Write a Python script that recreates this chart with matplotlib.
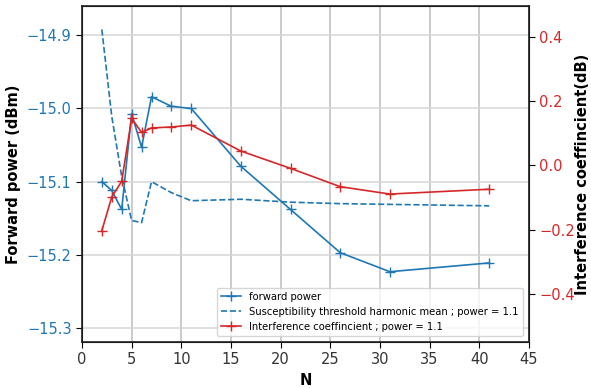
import numpy as np
import matplotlib
matplotlib.use("Agg")
import matplotlib.pyplot as plt

# data
n_vals = [2, 3, 4, 5, 6, 7, 9, 11, 16, 21, 26, 31, 41]
forward_power = [-15.100, -15.112, -15.138, -15.007, -15.053, -14.984, -14.997,
                 -15.000, -15.079, -15.138, -15.197, -15.223, -15.211]
threshold_hmean = [-14.892, -15.011, -15.093, -15.153, -15.156, -15.100, -15.115,
                   -15.126, -15.124, -15.128, -15.130, -15.131, -15.133]
interference = [-0.203, -0.098, -0.049, 0.147, 0.103, 0.117, 0.120,
                0.126, 0.045, -0.009, -0.066, -0.089, -0.074]

left_ticks = [-14.9, -15.0, -15.1, -15.2, -15.3]
right_ticks = [0.4, 0.2, 0.0, -0.2, -0.4]

blue = '#1f77b4'
red = '#d62728'

fig = plt.figure(figsize=(5.91, 3.88), dpi=100)
ax1 = fig.add_axes([0.1387, 0.1186, 0.7563, 0.8659])
ax2 = ax1.twinx()

l1, = ax1.plot(n_vals, forward_power, color=blue, marker='+', markersize=7,
               linewidth=1.2, label='forward power')
l2, = ax1.plot(n_vals, threshold_hmean, color=blue, linestyle='--', linewidth=1.2,
               label='Susceptibility threshold harmonic mean ; power = 1.1')
l3, = ax2.plot(n_vals, interference, color=red, marker='+', markersize=7,
               linewidth=1.2, label='Interference coeffincient ; power = 1.1')

ax1.set_xlim(0, 45)
ax1.set_ylim(-15.319, -14.860)
ax2.set_ylim(-0.55, 0.497)
ax1.set_xticks(np.arange(0, 46, 5))
ax1.set_yticks(left_ticks)
ax2.set_yticks(right_ticks)

ax1.grid(axis='x', color='#bdbdbd', linewidth=1.1)
ax1.grid(axis='y', color='#d6d6d6', linewidth=1.1)
ax1.set_axisbelow(True)

ax1.tick_params(axis='y', labelcolor=blue, labelsize=10.5, length=4)
ax1.tick_params(axis='x', labelcolor='#333333', labelsize=10.5, length=4)
ax2.tick_params(axis='y', labelcolor=red, labelsize=10.5, length=4)

for sp in ax2.spines.values():
    sp.set_linewidth(1.2)
    sp.set_color('#222222')

ax1.set_xlabel('N', fontweight='bold', fontsize=10.5)
ax1.set_ylabel('Forward power (dBm)', fontweight='bold', fontsize=10.5)
ax2.set_ylabel('Interference coeffincient(dB)', fontweight='bold', fontsize=10.5,
               labelpad=0)

ax2.legend(handles=[l1, l2, l3], loc='lower right', fontsize=7.2,
           borderaxespad=0.6, framealpha=0.8)

fig.savefig('out.png', dpi=100)
